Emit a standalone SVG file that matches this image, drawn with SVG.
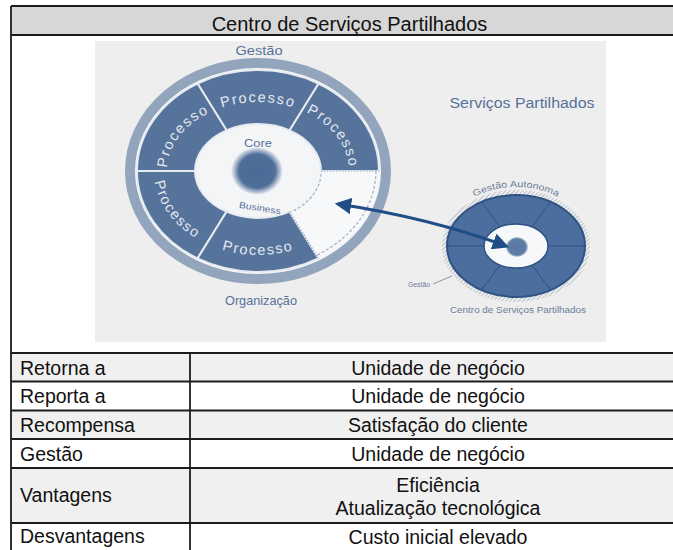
<svg xmlns="http://www.w3.org/2000/svg" width="673" height="550" viewBox="0 0 673 550">
  <style>
    .line { stroke: #1c1c1c; stroke-width: 1.8; fill: none; }
    .tt { font-family: "Liberation Sans", Arial, sans-serif; font-size: 19.5px; fill: #111; }
    .hd { font-family: "Liberation Sans", Arial, sans-serif; font-size: 20px; fill: #111; }
    .seg { fill: #56739b; stroke: #e6ebf1; stroke-width: 2; }
    .proc { font-family: "Liberation Sans", Arial, sans-serif; font-size: 14.5px; fill: #e3e8ef; letter-spacing: 1.6px; }
    .lbl { font-family: "Liberation Sans", Arial, sans-serif; fill: #56719a; }
    .sml { font-family: "Liberation Sans", Arial, sans-serif; fill: #6a7d98; }
    .sdiv { stroke: #2d5283; stroke-width: 1; }
    .dash { fill: none; stroke: #a3afbf; stroke-width: 1.2; stroke-dasharray: 3 2; }
  </style>
  <defs>
    <radialGradient id="coreGrad" cx="50%" cy="50%" r="50%">
      <stop offset="0%" stop-color="#4a6a95"/>
      <stop offset="70%" stop-color="#4f6f99"/>
      <stop offset="100%" stop-color="#4f6f99" stop-opacity="0"/>
    </radialGradient>
    <radialGradient id="dotGrad" cx="50%" cy="50%" r="50%">
      <stop offset="0%" stop-color="#5878a2"/>
      <stop offset="80%" stop-color="#5d7ca6"/>
      <stop offset="100%" stop-color="#5d7ca6" stop-opacity="0.3"/>
    </radialGradient>
    <pattern id="hatch" patternUnits="userSpaceOnUse" width="3" height="3" patternTransform="rotate(45)">
      <rect width="3" height="3" fill="#eeeeee"/>
      <line x1="0" y1="0" x2="0" y2="3" stroke="#9aa4b2" stroke-width="1.2"/>
    </pattern>
    <marker id="arrow" viewBox="0 0 10 10" refX="8" refY="5" markerWidth="5.5" markerHeight="5.5" orient="auto-start-reverse">
      <path d="M0,0 L10,5 L0,10 z" fill="#1f4d85"/>
    </marker>
    <path id="pUR" d="M 303.5 111.25 A 91 69 0 0 1 349 171"/>
    <path id="pT" d="M 212.5 111.25 A 91 69 0 0 1 303.5 111.25"/>
    <path id="pUL" d="M 167 171 A 91 69 0 0 1 212.5 111.25"/>
    <path id="pLL" d="M 154 171 A 104 84 0 0 0 206 243.7"/>
    <path id="pB" d="M 206 243.7 A 104 84 0 0 0 310 243.7"/>
    <path id="pGA" d="M 457.8 208.1 A 76 59 0 0 1 574.2 208.1"/>
  </defs>

  <rect width="673" height="550" fill="#ffffff"/>

  <g id="table">
    <rect x="11" y="6" width="670" height="29" fill="#d7d7d7"/>
    <rect x="11" y="353" width="670" height="28.5" fill="#f0f0f0"/>
    <rect x="11" y="410.5" width="670" height="28.5" fill="#f0f0f0"/>
    <rect x="11" y="468" width="670" height="55" fill="#f0f0f0"/>
    <line class="line" x1="11" y1="6" x2="673" y2="6"/>
    <line class="line" x1="11" y1="35" x2="673" y2="35"/>
    <line class="line" x1="11" y1="353" x2="673" y2="353"/>
    <line class="line" x1="11" y1="381.5" x2="673" y2="381.5"/>
    <line class="line" x1="11" y1="410.5" x2="673" y2="410.5"/>
    <line class="line" x1="11" y1="439" x2="673" y2="439"/>
    <line class="line" x1="11" y1="468" x2="673" y2="468"/>
    <line class="line" x1="11" y1="523" x2="673" y2="523"/>
    <line class="line" x1="11" y1="6" x2="11" y2="550"/>
    <line class="line" x1="190" y1="353" x2="190" y2="550"/>
    <text class="hd" x="349.5" y="31" text-anchor="middle">Centro de Serviços Partilhados</text>
    <text class="tt" x="20" y="374.5">Retorna a</text>
    <text class="tt" x="20" y="403">Reporta a</text>
    <text class="tt" x="20" y="432">Recompensa</text>
    <text class="tt" x="20" y="460.5">Gestão</text>
    <text class="tt" x="20" y="502">Vantagens</text>
    <text class="tt" x="20" y="543">Desvantagens</text>
    <text class="tt" x="438" y="374.5" text-anchor="middle">Unidade de negócio</text>
    <text class="tt" x="438" y="403" text-anchor="middle">Unidade de negócio</text>
    <text class="tt" x="438" y="432" text-anchor="middle">Satisfação do cliente</text>
    <text class="tt" x="438" y="460.5" text-anchor="middle">Unidade de negócio</text>
    <text class="tt" x="438" y="492" text-anchor="middle">Eficiência</text>
    <text class="tt" x="438" y="515" text-anchor="middle">Atualização tecnológica</text>
    <text class="tt" x="438" y="544" text-anchor="middle">Custo inicial elevado</text>
  </g>

  <rect id="panel" x="95" y="41" width="511" height="301" fill="#eeeeee"/>

  <g id="big-wheel">
    <ellipse cx="258" cy="171" rx="133" ry="113" fill="#f4f5f7"/>
    <ellipse cx="258" cy="171" rx="128" ry="108" fill="none" stroke="#93a5bc" stroke-width="10"/>
    <path class="seg" d="M 318.5 83.53 A 121 101 0 0 1 379 171 L 321 171 A 63 47 0 0 0 289.5 130.3 Z"/>
    <path class="seg" d="M 197.5 83.53 A 121 101 0 0 1 318.5 83.53 L 289.5 130.3 A 63 47 0 0 0 226.5 130.3 Z"/>
    <path class="seg" d="M 137 171 A 121 101 0 0 1 197.5 83.53 L 226.5 130.3 A 63 47 0 0 0 195 171 Z"/>
    <path class="seg" d="M 197.5 258.47 A 121 101 0 0 1 137 171 L 195 171 A 63 47 0 0 0 226.5 211.7 Z"/>
    <path class="seg" d="M 318.5 258.47 A 121 101 0 0 1 197.5 258.47 L 226.5 211.7 A 63 47 0 0 0 289.5 211.7 Z"/>
    <path d="M 379 171 A 121 101 0 0 1 318.5 258.47 L 289.5 211.7 A 63 47 0 0 0 321 171 Z" fill="#f7f8fa"/>
    <path class="dash" d="M 376 171 A 118 98 0 0 1 317 255"/>
    <path class="dash" d="M 321 174 A 63 47 0 0 1 291 212"/>
    <line x1="321" y1="171" x2="379" y2="171" stroke="#8b9cb5" stroke-width="1.2" stroke-dasharray="1.5 1.5"/>
    <line x1="289.5" y1="211.7" x2="318.5" y2="258.47" stroke="#8b9cb5" stroke-width="1.2" stroke-dasharray="1.5 1.5"/>
    <ellipse cx="257" cy="171" rx="26" ry="24" fill="url(#coreGrad)"/>
    <text class="proc"><textPath href="#pUR" startOffset="50%" text-anchor="middle">Processo</textPath></text>
    <text class="proc"><textPath href="#pT" startOffset="50%" text-anchor="middle">Processo</textPath></text>
    <text class="proc"><textPath href="#pUL" startOffset="50%" text-anchor="middle">Processo</textPath></text>
    <text class="proc"><textPath href="#pLL" startOffset="50%" text-anchor="middle">Processo</textPath></text>
    <text class="proc"><textPath href="#pB" startOffset="50%" text-anchor="middle">Processo</textPath></text>
    <text class="lbl" x="258" y="147" font-size="10" text-anchor="middle" textLength="28" lengthAdjust="spacingAndGlyphs">Core</text>
    <text class="lbl" x="260" y="211" font-size="9" text-anchor="middle" textLength="42" lengthAdjust="spacingAndGlyphs" transform="rotate(9 260 208)">Business</text>
    <text class="lbl" x="259" y="55" font-size="13" text-anchor="middle" textLength="47" lengthAdjust="spacingAndGlyphs">Gestão</text>
    <text class="lbl" x="261" y="305" font-size="13" text-anchor="middle" textLength="72" lengthAdjust="spacingAndGlyphs">Organização</text>
  </g>

  <text id="servicos-label" class="lbl" x="522" y="108" font-size="14" text-anchor="middle" textLength="145" lengthAdjust="spacingAndGlyphs">Serviços Partilhados</text>

  <g id="small-wheel">
    <ellipse cx="516" cy="246" rx="71.5" ry="53.5" fill="none" stroke="url(#hatch)" stroke-width="5"/>
    <ellipse cx="516" cy="246" rx="69" ry="51" fill="#4c6e9f" stroke="#2d5283" stroke-width="2"/>
    <line class="sdiv" x1="548" y1="246" x2="585" y2="246"/>
    <line class="sdiv" x1="484" y1="246" x2="447" y2="246"/>
    <line class="sdiv" x1="532" y1="265" x2="550.5" y2="290.2"/>
    <line class="sdiv" x1="500" y1="265" x2="481.5" y2="290.2"/>
    <line class="sdiv" x1="500" y1="227" x2="481.5" y2="201.8"/>
    <line class="sdiv" x1="532" y1="227" x2="550.5" y2="201.8"/>
    <ellipse cx="516" cy="246" rx="32" ry="22" fill="#f7f8fa" stroke="#2d5283" stroke-width="1.5"/>
    <ellipse cx="517" cy="247" rx="11" ry="10" fill="url(#dotGrad)"/>
    <text class="sml" font-size="9"><textPath href="#pGA" startOffset="50%" text-anchor="middle" textLength="86" lengthAdjust="spacingAndGlyphs">Gestão Autonoma</textPath></text>
    <text class="sml" x="419" y="287" font-size="7.5" text-anchor="middle" textLength="22" lengthAdjust="spacingAndGlyphs">Gestão</text>
    <line x1="433" y1="284" x2="452" y2="276" stroke="#6a7d98" stroke-width="0.8"/>
    <text class="sml" x="518" y="313" font-size="8.5" text-anchor="middle" textLength="136" lengthAdjust="spacingAndGlyphs">Centro de Serviços Partilhados</text>
  </g>

  <g id="connectors">
    <path d="M 338 204 Q 430 218 506 246" fill="none" stroke="#1f4d85" stroke-width="3" marker-start="url(#arrow)" marker-end="url(#arrow)"/>
  </g>
</svg>
